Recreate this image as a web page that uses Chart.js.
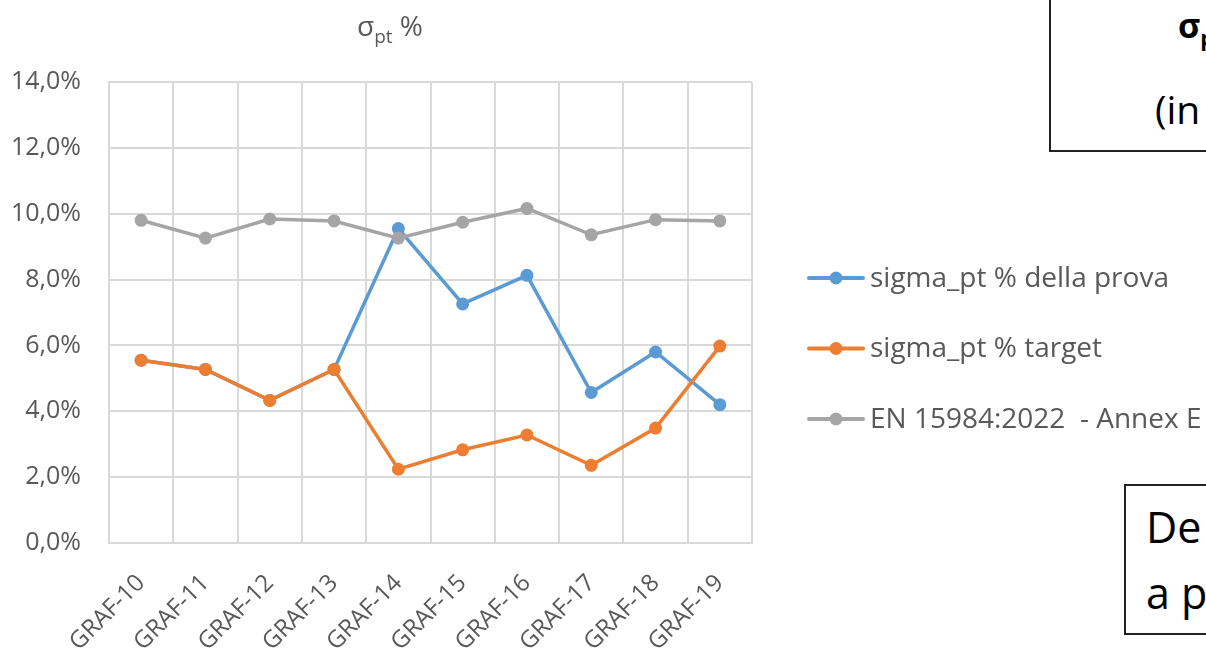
<!DOCTYPE html>
<html>
<head>
<meta charset="utf-8">
<script src="https://cdn.jsdelivr.net/npm/chart.js@4.4.1/dist/chart.umd.min.js"></script>
<style>
  html, body { margin: 0; padding: 0; background: #fff; }
  body { width: 1206px; height: 655px; overflow: hidden; position: relative; font-family: "Open Sans", sans-serif; }
  #chart { position: absolute; left: 0; top: 0; }
  .box { position: absolute; border: 2px solid #222; background: #fff; overflow: hidden; color: #000; }
  .box span { position: absolute; white-space: nowrap; }
</style>
</head>
<body>
<canvas id="chart" width="1206" height="655"></canvas>

<div class="box" style="left:1049px; top:-10px; width:220px; height:158px;">
  <span style="left:127px; top:10px; font-size:34px; font-weight:bold;">σ<sub style="font-size:22px;">pt</sub></span>
  <span style="left:104px; top:90px; font-size:39px;">(in</span>
</div>
<div class="box" style="left:1124px; top:484px; width:120px; height:147px;">
  <span style="left:20px; top:11px; font-size:43px;">De</span>
  <span style="left:20px; top:77px; font-size:43px;">a p</span>
</div>

<script>
// Categories (GRAF rounds)
const categories = ['GRAF-10', 'GRAF-11', 'GRAF-12', 'GRAF-13', 'GRAF-14',
                    'GRAF-15', 'GRAF-16', 'GRAF-17', 'GRAF-18', 'GRAF-19'];

// sigma_pt values, in percent
const sigmaProva  = [5.55, 5.27, 4.33, 5.27, 9.55, 7.26, 8.13, 4.57, 5.80, 4.20];
const sigmaTarget = [5.55, 5.27, 4.33, 5.27, 2.24, 2.83, 3.28, 2.36, 3.49, 5.98];
const annexE      = [9.80, 9.26, 9.84, 9.78, 9.26, 9.74, 10.16, 9.36, 9.82, 9.78];

const seriesNames = ['sigma_pt % della prova', 'sigma_pt % target', 'EN 15984:2022  - Annex E'];
const seriesColors = ['#5B9BD5', '#ED7D31', '#A5A5A5'];

// y axis: 0 .. 14 % in steps of 2
const yMin = 0, yMax = 14, yStep = 2;

const FONT = '"Open Sans", sans-serif';
const TEXT = '#595959';
const GRID = '#d9d9d9';

function fmtPct(v) {
  return v.toFixed(1).replace('.', ',') + '%';
}

// Title "σpt %" with a subscript
const titlePlugin = {
  id: 'sigmaTitle',
  afterDraw(chart) {
    const ctx = chart.ctx;
    ctx.save();
    ctx.fillStyle = TEXT;
    ctx.textBaseline = 'alphabetic';
    ctx.textAlign = 'left';
    const big = '28px ' + FONT, small = '19px ' + FONT;
    ctx.font = big; const w1 = ctx.measureText('σ').width;
    ctx.font = small; const w2 = ctx.measureText('pt').width;
    ctx.font = big; const w3 = ctx.measureText(' %').width;
    const cx = 390, base = 36;
    let x = cx - (w1 + w2 + w3) / 2;
    ctx.font = big; ctx.fillText('σ', x, base); x += w1;
    ctx.font = small; ctx.fillText('pt', x, base + 7); x += w2;
    ctx.font = big; ctx.fillText(' %', x, base);
    ctx.restore();
  }
};

// Legend on the right: line + marker, then the series name
const sideLegend = {
  id: 'sideLegend',
  afterDraw(chart) {
    const ctx = chart.ctx;
    const x0 = 809, lineLen = 54, y0 = 278, gap = 70.5;
    ctx.save();
    chart.data.datasets.forEach((ds, i) => {
      const y = y0 + i * gap;
      ctx.strokeStyle = ds.borderColor;
      ctx.lineWidth = 4;
      ctx.lineCap = 'round';
      ctx.beginPath();
      ctx.moveTo(x0, y);
      ctx.lineTo(x0 + lineLen, y);
      ctx.stroke();
      ctx.fillStyle = ds.backgroundColor;
      ctx.beginPath();
      ctx.arc(x0 + lineLen / 2, y, 6.5, 0, Math.PI * 2);
      ctx.fill();
      ctx.fillStyle = TEXT;
      ctx.font = '28px ' + FONT;
      ctx.textBaseline = 'middle';
      ctx.textAlign = 'left';
      ctx.fillText(ds.label, x0 + lineLen + 7, y + 1);
    });
    ctx.restore();
  }
};

const data = [sigmaProva, sigmaTarget, annexE];

new Chart(document.getElementById('chart'), {
  type: 'line',
  data: {
    labels: categories,
    datasets: data.map((values, i) => ({
      label: seriesNames[i],
      data: values,
      borderColor: seriesColors[i],
      backgroundColor: seriesColors[i],
      borderWidth: 3.5,
      pointRadius: 6.5,
      pointHoverRadius: 6.5,
      pointBorderWidth: 0,
      tension: 0,
      order: 3 - i
    }))
  },
  options: {
    responsive: false,
    animation: false,
    layout: { padding: { top: 82, right: 454, left: 0, bottom: 0 } },
    plugins: {
      legend: { display: false },
      title: { display: false },
      tooltip: { enabled: false }
    },
    scales: {
      x: {
        offset: true,
        grid: { offset: true, color: GRID, lineWidth: 2, drawTicks: false },
        border: { color: GRID, width: 2 },
        ticks: {
          color: TEXT,
          font: { family: FONT, size: 24 },
          maxRotation: 45, minRotation: 45,
          padding: 26,
          autoSkip: false
        },
        afterFit(scale) { scale.height = 112; }
      },
      y: {
        min: yMin, max: yMax,
        grid: { color: GRID, lineWidth: 2, drawTicks: false },
        border: { color: GRID, width: 2 },
        ticks: {
          stepSize: yStep,
          color: TEXT,
          font: { family: FONT, size: 25 },
          padding: 28,
          callback: (v) => fmtPct(v)
        },
        afterFit(scale) { scale.width = 109; }
      }
    }
  },
  plugins: [titlePlugin, sideLegend]
});
</script>
</body>
</html>
